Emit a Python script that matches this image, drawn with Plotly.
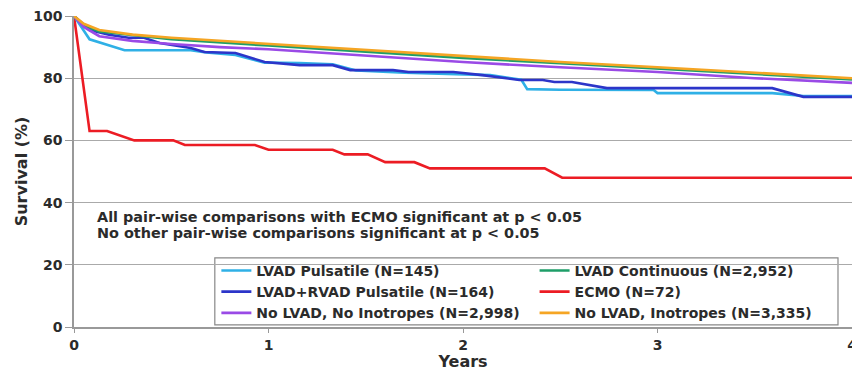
import plotly.graph_objects as go

# Survival curves (years, survival %)
lvad_puls_t = [0, 0.08, 0.26, 0.60, 0.68, 0.83, 0.98, 1.16, 1.33, 1.45, 1.70, 2.14, 2.30, 2.33, 2.50, 2.98, 3.00, 3.59, 3.75, 4.0]
lvad_puls_s = [100, 92.5, 89.0, 89.0, 88.3, 87.5, 85.0, 84.9, 84.5, 82.5, 81.8, 81.0, 79.5, 76.5, 76.3, 76.2, 75.2, 75.2, 74.3, 74.3]

lvad_cont_t = [0, 0.05, 0.13, 0.50, 1.0, 1.5, 2.0, 2.5, 3.0, 3.5, 4.0]
lvad_cont_s = [100, 97.0, 95.0, 92.5, 90.5, 88.5, 86.5, 84.8, 83.0, 81.3, 79.6]

lvad_rvad_t = [0, 0.08, 0.18, 0.28, 0.36, 0.44, 0.60, 0.67, 0.83, 0.98, 1.16, 1.33, 1.42, 1.64, 1.72, 1.95, 2.10, 2.29, 2.41, 2.47, 2.56, 2.74, 3.59, 3.75, 4.0]
lvad_rvad_s = [100, 95.5, 94.0, 93.0, 93.0, 91.3, 89.7, 88.4, 88.1, 85.2, 84.2, 84.2, 82.6, 82.6, 82.0, 82.0, 81.0, 79.4, 79.4, 78.8, 78.8, 76.8, 76.8, 74.0, 74.0]

ecmo_t = [0, 0.08, 0.17, 0.31, 0.51, 0.57, 0.93, 1.00, 1.33, 1.39, 1.51, 1.60, 1.75, 1.83, 2.42, 2.51, 4.0]
ecmo_s = [100, 63.0, 63.0, 60.0, 60.0, 58.5, 58.5, 57.0, 57.0, 55.5, 55.5, 53.0, 53.0, 51.0, 51.0, 48.0, 48.0]

no_ino_t = [0, 0.05, 0.13, 0.30, 0.50, 0.75, 1.0, 1.5, 2.0, 2.5, 3.0, 3.5, 4.0]
no_ino_s = [100, 96.5, 93.5, 92.0, 91.0, 90.0, 89.3, 87.2, 85.2, 83.5, 82.0, 80.0, 78.5]

ino_t = [0, 0.05, 0.13, 0.30, 0.50, 0.75, 1.0, 1.5, 2.0, 2.5, 3.0, 3.5, 4.0]
ino_s = [100, 97.5, 95.5, 94.0, 93.0, 92.0, 91.0, 89.0, 87.0, 85.2, 83.5, 81.8, 80.0]

x_ticks = [0, 1, 2, 3, 4]
y_ticks = [0, 20, 40, 60, 80, 100]

FONT = "DejaVu Sans, Verdana, sans-serif"
TXT = "#2b2b2b"

series = [
    ("LVAD Pulsatile (N=145)", lvad_puls_t, lvad_puls_s, "#2fb0e6", "legend"),
    ("LVAD Continuous (N=2,952)", lvad_cont_t, lvad_cont_s, "#1e9e68", "legend2"),
    ("LVAD+RVAD Pulsatile (N=164)", lvad_rvad_t, lvad_rvad_s, "#2c35c9", "legend"),
    ("ECMO (N=72)", ecmo_t, ecmo_s, "#ec1c24", "legend2"),
    ("No LVAD, No Inotropes (N=2,998)", no_ino_t, no_ino_s, "#9a4ae6", "legend"),
    ("No LVAD, Inotropes (N=3,335)", ino_t, ino_s, "#f5a524", "legend2"),
]

fig = go.Figure()
# draw order: lower curves first, the two large groups on top
draw_order = [3, 0, 2, 1, 4, 5]
for i in draw_order:
    name, t, s, col, lg = series[i]
    fig.add_trace(go.Scatter(
        x=t, y=s, mode="lines", name=name, legend=lg,
        legendrank=i,
        line=dict(color=col, width=2.6),
    ))

fig.update_layout(
    width=852, height=371,
    margin=dict(l=74, r=0, t=16, b=44),
    paper_bgcolor="white", plot_bgcolor="white",
    font=dict(family=FONT, color=TXT, size=13, weight="bold"),
    xaxis=dict(
        range=[0, 4], tickvals=x_ticks, ticks="outside", ticklen=4,
        tickcolor="#999", showgrid=False, showline=True, linecolor="#999",
        linewidth=1.5, zeroline=False, ticklabeloverflow="allow",
        automargin=False,
        tickfont=dict(size=14, weight="bold", color=TXT),
        title=dict(text="Years", font=dict(size=16, weight="bold", color=TXT), standoff=4),
    ),
    yaxis=dict(
        range=[0, 100], tickvals=y_ticks, ticks="outside", ticklen=7,
        tickcolor="#999", showgrid=True, gridcolor="#aaa", gridwidth=1,
        showline=True, linecolor="#999", linewidth=1.5, zeroline=False,
        automargin=False,
        tickfont=dict(size=14, weight="bold", color=TXT),
        title=dict(text="Survival (%)", font=dict(size=16, weight="bold", color=TXT), standoff=2),
    ),
    legend=dict(
        x=0.183, y=0.232, xanchor="left", yanchor="top",
        bgcolor="rgba(0,0,0,0)", borderwidth=0, tracegroupgap=0,
        font=dict(size=14, weight="bold", color=TXT), itemwidth=30,
    ),
    legend2=dict(
        x=0.592, y=0.232, xanchor="left", yanchor="top",
        bgcolor="rgba(0,0,0,0)", borderwidth=0, tracegroupgap=0,
        font=dict(size=14, weight="bold", color=TXT), itemwidth=30,
    ),
    showlegend=True,
)

# legend frame
fig.add_shape(type="rect", xref="paper", yref="paper",
              x0=0.181, x1=0.982, y0=0.007, y1=0.222,
              line=dict(color="#888", width=1.2), fillcolor="white", layer="below")

notes = [
    ("All pair-wise comparisons with ECMO significant at p < 0.05", 0.354),
    ("No other pair-wise comparisons significant at p < 0.05", 0.302),
]
for text, ypos in notes:
    fig.add_annotation(
        x=0.027, y=ypos, xref="paper", yref="paper", xanchor="left", yanchor="middle",
        text=text, showarrow=False, align="left",
        font=dict(size=14.4, weight="bold", color=TXT),
    )

fig.write_html("out.html")
